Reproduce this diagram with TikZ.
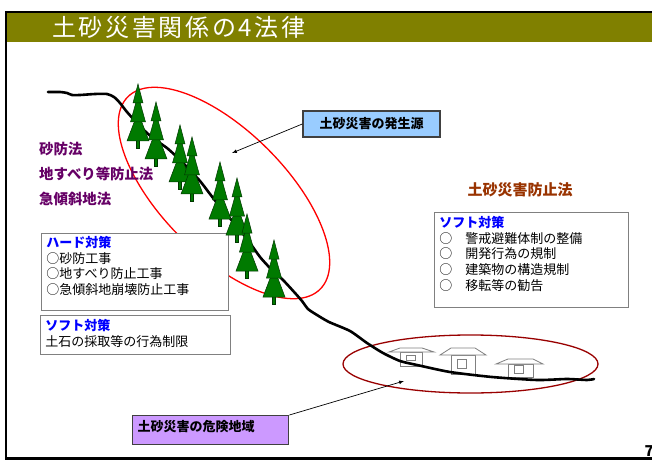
\documentclass[tikz,border=0pt]{standalone}
\usepackage{fontspec}
\setmainfont{Noto Sans CJK JP}
\usepackage{tikz}
\usetikzlibrary{arrows}
\tikzset{>=latex}

\definecolor{titlebar}{RGB}{128,128,0}
\definecolor{treegreen}{RGB}{0,122,0}
\definecolor{treeline}{RGB}{0,55,0}
\definecolor{lawpurple}{RGB}{102,0,102}
\definecolor{lawbrown}{RGB}{153,51,0}
\definecolor{zonered}{RGB}{153,0,0}
\definecolor{srcblue}{RGB}{153,204,255}
\definecolor{zonelilac}{RGB}{204,153,255}
\definecolor{boxgray}{RGB}{128,128,128}
\definecolor{measureblue}{RGB}{0,0,255}

\tikzset{
    fir/.pic={
        \filldraw[fill=treegreen, draw=treeline, line width=0.5pt] (-1.6,56) rectangle (1.6,64);
        \filldraw[fill=treegreen, draw=treeline, line width=0.5pt] (0,28) -- (-11,57) -- (11,57) -- cycle;
        \filldraw[fill=treegreen, draw=treeline, line width=0.5pt] (0,11) -- (-7.5,38) -- (7.5,38) -- cycle;
        \filldraw[fill=treegreen, draw=treeline, line width=0.5pt] (0,0) -- (-5,19) -- (5,19) -- cycle;
    },
    cottage/.style={draw=boxgray, fill=white, line width=0.8pt},
    law/.style={anchor=west, inner sep=0pt, text=lawpurple, font=\fontsize{14.4}{16}\selectfont\bfseries},
    measures/.style={draw=boxgray, fill=white, line width=0.9pt, anchor=north west, align=left,
        inner xsep=5pt, inner ysep=3pt, font=\fontsize{13}{15.7}\selectfont},
    tagbox/.style={draw=black!75, line width=1.4pt, font=\fontsize{13}{15}\selectfont\bfseries},
}
\newcommand{\measurehead}[1]{\textcolor{measureblue}{\bfseries #1}}

\begin{document}
\begin{tikzpicture}[x=1pt, y=-1pt]
        \useasboundingbox (0,0) rectangle (652,462);
        \clip (0,0) rectangle (652,462);
        \fill[white] (0,0) rectangle (652,462);

        \fill[titlebar] (6,12) rectangle (660,42);
        \draw[black, line width=2.6pt] (6,12) rectangle (660,458.5);
        \node[anchor=west, inner sep=0pt, text=white, font=\fontsize{24}{24}\selectfont\addfontfeature{LetterSpace=11}] (title) at (52,27) {土砂災害関係の4法律};

        \draw[red, line width=1.3pt, rotate around={-45:(224,193)}] (224,193) ellipse [x radius=136pt, y radius=62pt];
        \draw[zonered, line width=1.3pt] (470.5,364) ellipse [x radius=127.5pt, y radius=29pt];

        \node[law] (sabo) at (39,149) {砂防法};
        \node[law] (jisuberi) at (39,174) {地すべり等防止法};
        \node[law] (kyukeisha) at (39,199) {急傾斜地法};
        \node[inner sep=0pt, text=lawbrown, font=\fontsize{15}{16}\selectfont\bfseries] (dosha) at (520,190) {土砂災害防止法};

        \node[measures, text width=177pt, text height=11pt, text depth=60pt] (hard) at (41,233)
            {\measurehead{ハード対策}\\○砂防工事\\○地すべり防止工事\\○急傾斜地崩壊防止工事};
        \node[measures, text width=180pt, text height=12pt, text depth=21pt] (soft left) at (40,315)
            {\measurehead{ソフト対策}\\土石の採取等の行為制限};
        \node[measures, text width=184pt, text height=12pt, text depth=77pt] (soft right) at (434,212)
            {\measurehead{ソフト対策}\\○　警戒避難体制の整備\\○　開発行為の規制\\○　建築物の構造規制\\○　移転等の勧告};

        \filldraw[cottage] (400,352) rectangle (422,366);
        \filldraw[cottage] (389,352) -- (400,348) -- (422,348) -- (434,352) -- cycle;
        \draw[cottage] (406,355) rectangle (415,360);
        \filldraw[cottage] (451,355) rectangle (475,374);
        \filldraw[cottage] (440,355) -- (451,348) -- (475,348) -- (486,355) -- cycle;
        \draw[cottage] (457,359) rectangle (466,368);
        \filldraw[cottage] (508,364) rectangle (533,377);
        \filldraw[cottage] (496,364) -- (508,359) -- (533,359) -- (543,364) -- cycle;
        \draw[cottage] (514,365) rectangle (523,373);

        \draw[line width=2.6pt, line join=round, line cap=round] plot[smooth, tension=0.4] coordinates {
            (48,92) (60,92) (67,93) (72,95) (80,95) (95,94) (107,94) (114,97) (120,103)
            (127,112) (137,123) (147,133) (157,141) (167,148) (177,157) (187,167) (200,181)
            (210,194) (217,203) (228,216) (240,230) (250,243) (260,257) (270,268) (283,280)
            (295,293) (302,301) (308,309) (317,315) (329,322) (350,331) (367,343) (383,353)
            (400,361) (417,365) (450,372) (492,377) (537,380) (567,379) (587,380) (594,379)};

        \pic at (138,84) {fir};
        \pic at (156,102) {fir};
        \pic at (180,125) {fir};
        \pic at (192,137) {fir};
        \pic at (220,162) {fir};
        \pic at (237,178) {fir};
        \pic at (247,214) {fir};
        \pic at (274,240) {fir};

        \node[tagbox, fill=srcblue, minimum width=137pt, minimum height=26pt] (source) at (371.5,124) {土砂災害の発生源};
        \node[tagbox, fill=zonelilac, anchor=north west, align=left, inner xsep=5pt, inner ysep=3pt,
            text width=146pt, text height=13pt, text depth=10pt] (danger) at (132,415) {土砂災害の危険地域};

        \coordinate (source tip) at (232,153);
        \coordinate (danger tip) at (404,381);
        \draw[->, line width=0.7pt] (source.west) -- (source tip);
        \draw[->, line width=0.7pt] (danger.north east) -- (danger tip);

        \node[anchor=base west, inner sep=0pt, font=\fontsize{15}{15}\selectfont\bfseries] (page) at (644.5,456) {7};
\end{tikzpicture}
\end{document}
